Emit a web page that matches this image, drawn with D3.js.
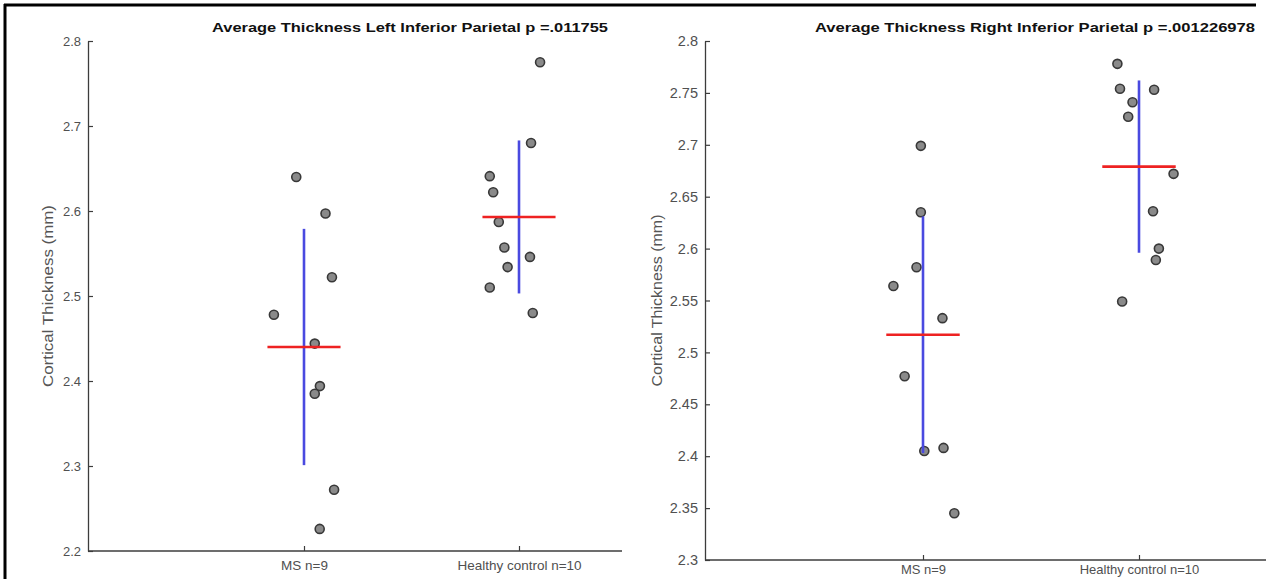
<!DOCTYPE html>
<html>
<head>
<meta charset="utf-8">
<script src="https://cdn.jsdelivr.net/npm/d3@7"></script>
<style>
  body { margin: 0; background: #fff; }
  svg { display: block; font-family: "Liberation Sans", Arial, Helvetica, sans-serif; }
</style>
</head>
<body>
<svg id="chart" width="1266" height="579"></svg>
<script>
// categories
const groups = ["MS n=9", "Healthy control n=10"];

// left panel: Left Inferior Parietal
const leftTitle = "Average Thickness Left Inferior Parietal p =.011755";
const leftMS = [2.640, 2.597, 2.522, 2.478, 2.444, 2.394, 2.385, 2.272, 2.226];
const leftMSJitter = [-0.036, 0.10, 0.13, -0.14, 0.05, 0.074, 0.05, 0.14, 0.073];
const leftHC = [2.775, 2.680, 2.641, 2.622, 2.587, 2.557, 2.546, 2.534, 2.510, 2.480];
const leftHCJitter = [0.098, 0.056, -0.136, -0.12, -0.094, -0.068, 0.051, -0.053, -0.136, 0.064];
const leftMeans = [2.440, 2.593];
const leftSD = [0.139, 0.090];
const leftTicks = [2.2, 2.3, 2.4, 2.5, 2.6, 2.7, 2.8];
const leftTickLabels = ["2.2", "2.3", "2.4", "2.5", "2.6", "2.7", "2.8"];

// right panel: Right Inferior Parietal
const rightTitle = "Average Thickness Right Inferior Parietal p =.001226978";
const rightMS = [2.699, 2.635, 2.582, 2.564, 2.533, 2.477, 2.408, 2.405, 2.345];
const rightMSJitter = [-0.01, -0.01, -0.03, -0.137, 0.09, -0.085, 0.095, 0.006, 0.145];
const rightHC = [2.778, 2.754, 2.753, 2.741, 2.727, 2.672, 2.636, 2.600, 2.589, 2.549];
const rightHCJitter = [-0.10, -0.088, 0.07, -0.03, -0.05, 0.16, 0.065, 0.092, 0.078, -0.078];
const rightMeans = [2.517, 2.679];
const rightSD = [0.114, 0.083];
const rightTicks = [2.3, 2.35, 2.4, 2.45, 2.5, 2.55, 2.6, 2.65, 2.7, 2.75, 2.8];
const rightTickLabels = ["2.3", "2.35", "2.4", "2.45", "2.5", "2.55", "2.6", "2.65", "2.7", "2.75", "2.8"];

const svg = d3.select("#chart");

function drawPanel(p) {
  const g = svg.append("g");

  const x = d3.scaleLinear().domain([0, 3]).range([p.x0, p.x1]);
  const y = d3.scaleLinear().domain(p.yDomain).range([p.yBottom, p.yTop]);

  // y axis (ticks point inward like matlab)
  const yAxis = d3.axisLeft(y)
    .tickValues(p.ticks)
    .tickFormat((d, i) => p.tickLabels[i])
    .tickSizeInner(-5)
    .tickSizeOuter(0)
    .tickPadding(7);
  const ya = g.append("g")
    .attr("transform", `translate(${p.axisX},0)`)
    .call(yAxis);
  ya.select(".domain").attr("stroke", "#3c3c3c").attr("stroke-width", 1.3);
  ya.selectAll(".tick line").attr("stroke", "#3c3c3c").attr("stroke-width", 1.2);
  ya.selectAll(".tick text")
    .attr("fill", "#505050")
    .attr("font-size", p.tickFont);

  // x axis
  const xAxis = d3.axisBottom(x)
    .tickValues([1, 2])
    .tickFormat((d, i) => groups[i])
    .tickSizeInner(-5)
    .tickSizeOuter(0)
    .tickPadding(p.xPad);
  const xa = g.append("g")
    .attr("transform", `translate(0,${p.yBottom})`)
    .call(xAxis);
  xa.select(".domain")
    .attr("d", `M${p.axisX},0H${p.x1}`)
    .attr("stroke", "#3c3c3c").attr("stroke-width", 1.3);
  xa.selectAll(".tick line").attr("stroke", "#3c3c3c").attr("stroke-width", 1.2);
  xa.selectAll(".tick text")
    .attr("fill", "#505050")
    .attr("font-size", p.xFont);

  // y label
  g.append("text")
    .attr("transform", `translate(${p.ylabelX},${(p.yTop + p.yBottom) / 2}) rotate(-90)`)
    .attr("text-anchor", "middle")
    .attr("fill", "#555555")
    .attr("font-size", 15)
    .attr("textLength", p.ylabelLen)
    .attr("lengthAdjust", "spacingAndGlyphs")
    .text("Cortical Thickness (mm)");

  // title
  g.append("text")
    .attr("x", p.titleX)
    .attr("y", 32)
    .attr("text-anchor", "middle")
    .attr("font-weight", "bold")
    .attr("font-size", 13.5)
    .attr("fill", "#111")
    .attr("textLength", p.titleLen)
    .attr("lengthAdjust", "spacingAndGlyphs")
    .text(p.title);

  // points
  const pts = [];
  p.ms.forEach((v, i) => pts.push({ gx: 1 + p.msJ[i], v }));
  p.hc.forEach((v, i) => pts.push({ gx: 2 + p.hcJ[i], v }));
  g.append("g").selectAll("circle")
    .data(pts)
    .join("circle")
      .attr("cx", d => x(d.gx))
      .attr("cy", d => y(d.v))
      .attr("r", 4.5)
      .attr("fill", "#8a8a8a")
      .attr("stroke", "#383838")
      .attr("stroke-width", 1.6);

  // sd bars (blue) and means (red)
  const stats = p.means.map((m, i) => ({ gx: i + 1, m, sd: p.sd[i] }));
  g.append("g").selectAll("line")
    .data(stats)
    .join("line")
      .attr("x1", d => x(d.gx)).attr("x2", d => x(d.gx))
      .attr("y1", d => y(d.m + d.sd)).attr("y2", d => y(d.m - d.sd))
      .attr("stroke", "#4a4ae0")
      .attr("stroke-width", 2.6);
  g.append("g").selectAll("line")
    .data(stats)
    .join("line")
      .attr("x1", d => x(d.gx - 0.17)).attr("x2", d => x(d.gx + 0.17))
      .attr("y1", d => y(d.m)).attr("y2", d => y(d.m))
      .attr("stroke", "#ee2222")
      .attr("stroke-width", 2.6);
}

drawPanel({
  x0: 89, x1: 734, axisX: 88, yTop: 41, yBottom: 551, yDomain: [2.2, 2.8],
  ticks: leftTicks, tickLabels: leftTickLabels, tickFont: 13, xFont: 13.5, xPad: 9,
  ms: leftMS, msJ: leftMSJitter, hc: leftHC, hcJ: leftHCJitter,
  means: leftMeans, sd: leftSD,
  title: leftTitle, titleX: 410, titleLen: 396,
  ylabelX: 53, ylabelLen: 182
});

// right figure image sits over the left one
svg.append("rect")
  .attr("x", 622).attr("y", 7).attr("width", 644).attr("height", 572)
  .attr("fill", "#fff");

drawPanel({
  x0: 707, x1: 1355, axisX: 705, yTop: 41, yBottom: 560, yDomain: [2.3, 2.8],
  ticks: rightTicks, tickLabels: rightTickLabels, tickFont: 14.5, xFont: 13, xPad: 5,
  ms: rightMS, msJ: rightMSJitter, hc: rightHC, hcJ: rightHCJitter,
  means: rightMeans, sd: rightSD,
  title: rightTitle, titleX: 1035, titleLen: 440,
  ylabelX: 662, ylabelLen: 172
});

// outer frame
svg.append("line")
  .attr("x1", 4).attr("x2", 1256).attr("y1", 5).attr("y2", 5)
  .attr("stroke", "#000").attr("stroke-width", 3);
svg.append("line")
  .attr("x1", 5).attr("x2", 5).attr("y1", 4).attr("y2", 579)
  .attr("stroke", "#000").attr("stroke-width", 3);
</script>
</body>
</html>
